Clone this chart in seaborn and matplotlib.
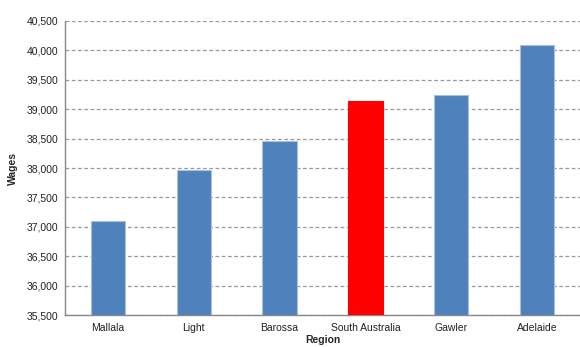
import matplotlib
matplotlib.use("Agg")
import matplotlib.pyplot as plt
import seaborn as sns
import numpy as np
from matplotlib.ticker import FuncFormatter, MultipleLocator, FixedLocator

regions = ["Mallala", "Light", "Barossa", "South Australia", "Gawler", "Adelaide"]
wages = [37100, 37960, 38455, 39145, 39250, 40100]
bar_colors = ["#4F81BD", "#4F81BD", "#4F81BD", "#FF0000", "#4F81BD", "#4F81BD"]
edge_colors = ["#A7C0DE", "#A7C0DE", "#A7C0DE", "#FF0000", "#A7C0DE", "#A7C0DE"]

sns.set_style("white")
plt.rcParams["font.family"] = ["Liberation Sans", "DejaVu Sans"]

fig = plt.figure(figsize=(5.8, 3.47), dpi=100)
ax = fig.add_axes([0.112, 0.092, 0.888, 0.8475])

sns.barplot(x=regions, y=wages, hue=regions, palette=bar_colors, saturation=1,
            width=0.4, legend=False, ax=ax, zorder=3)
for patch, ec in zip(ax.patches, edge_colors):
    patch.set_edgecolor(ec)
    patch.set_linewidth(0.8)

ax.set_ylim(35500, 40500)
ax.set_xlim(-0.5, len(regions) - 0.5)
ax.yaxis.set_major_locator(MultipleLocator(500))
ax.yaxis.set_major_formatter(FuncFormatter(lambda v, p: f"{int(v):,}"))
ax.yaxis.grid(True, color="#9A9A9A", linestyle=(0, (3, 2)), linewidth=0.9, zorder=0)
ax.xaxis.grid(False)

ax.xaxis.set_minor_locator(FixedLocator(np.arange(0.5, len(regions) - 0.5, 1)))
ax.tick_params(axis="x", which="major", length=0, labelsize=7.5, pad=6, colors="#222222")
ax.tick_params(axis="x", which="minor", length=3, color="#888888", direction="out")
ax.tick_params(axis="y", length=3, labelsize=7.5, pad=2, colors="#222222")
ax.tick_params(axis="y", color="#888888")

for side in ["top", "right"]:
    ax.spines[side].set_visible(False)
for side in ["left", "bottom"]:
    ax.spines[side].set_color("#888888")
    ax.spines[side].set_linewidth(1.0)

ax.set_xlabel("Region", fontsize=7.5, fontweight="bold", labelpad=1)
ax.set_ylabel("Wages", fontsize=7.5, fontweight="bold", labelpad=6)

fig.savefig("out.png", dpi=100, facecolor="white")
